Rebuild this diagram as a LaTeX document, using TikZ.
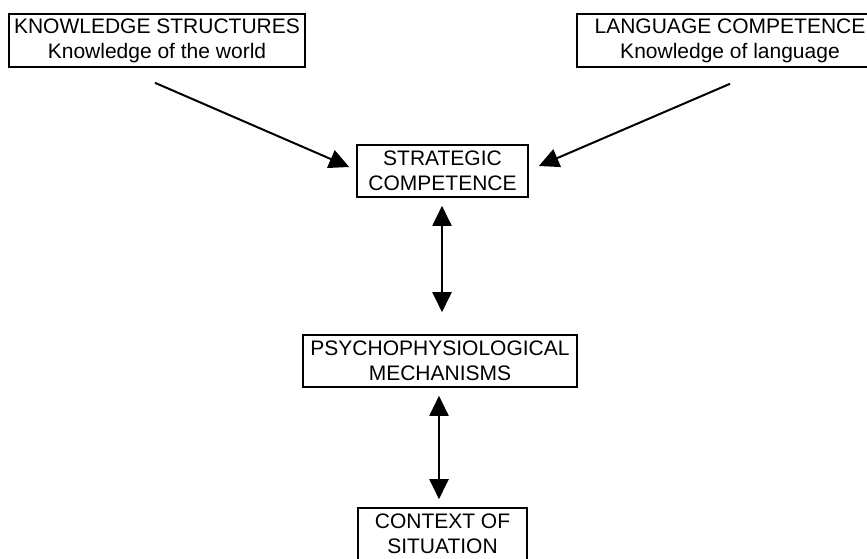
\documentclass[tikz,border=0pt]{standalone}
\usepackage{fontspec}
\setmainfont{Liberation Sans}
\usetikzlibrary{arrows.meta,calc}

\tikzset{
  box/.style={draw, line width=1.6pt, inner sep=0pt, align=center,
    font=\fontsize{21}{25}\selectfont},
  link/.style={line width=2pt, -{Triangle[length=20pt,width=19pt]}},
  twoway/.style={line width=2pt, {Triangle[length=20pt,width=19pt]}-{Triangle[length=20pt,width=19pt]}}
}

\begin{document}
\begin{tikzpicture}[x=1pt, y=-1pt]
  \useasboundingbox (0,0) rectangle (867,558);
  \clip (0,0) rectangle (867,558);

  % knowledge sources
  \node[box, minimum width=296pt, minimum height=53pt] (ks) at (157,40.5)
    {KNOWLEDGE STRUCTURES\\Knowledge of the world};
  \node[box, minimum width=306pt, minimum height=53pt] (lc) at (730,40.5)
    {LANGUAGE COMPETENCE\\Knowledge of language};

  % central chain
  \node[box, minimum width=171pt, minimum height=52pt] (sc) at (442.5,171)
    {STRATEGIC\\COMPETENCE};
  \node[box, minimum width=274pt, minimum height=52pt] (pm) at (440,361)
    {PSYCHOPHYSIOLOGICAL\\MECHANISMS};
  \node[box, minimum width=169pt, minimum height=52pt] (cs) at (442.5,534)
    {CONTEXT OF\\SITUATION};

  % connectors
  \draw[link] ($(ks.south)+(-2,15)$) -- ($(sc.west)+(-7,-4)$);
  \draw[link] ($(lc.south)+(0,16)$) -- ($(sc.east)+(10,-5)$);
  \draw[twoway] ($(sc.south)+(-0.5,8)$) -- ($(pm.north)+(2,-22)$);
  \draw[twoway] ($(pm.south)+(-1,8)$) -- ($(cs.north)+(-3.5,-8)$);
\end{tikzpicture}
\end{document}
